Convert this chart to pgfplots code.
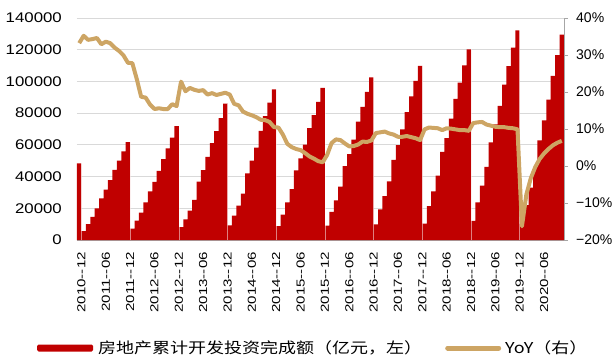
\documentclass[border=0pt]{standalone}
\usepackage{fontspec}
\setmainfont{Liberation Sans}
\newfontfamily\yfont{Liberation Sans}[FakeStretch=1.2]
\newfontfamily\xfont{Liberation Sans}[FakeStretch=1.3]
\newfontfamily\cjk{Noto Sans CJK SC}[FakeStretch=1.2]
\usepackage{pgfplots}
\usepackage{pgfplotstable}
\pgfplotsset{compat=1.18}
\definecolor{barred}{RGB}{192,0,0}
\definecolor{yoy}{RGB}{205,165,100}
\definecolor{gridc}{RGB}{217,217,217}
\definecolor{axc}{RGB}{166,166,166}

% x: category index (0 = 2010-12, then Feb..Dec of each year, 2020 up to Nov)
% the last row only closes the final bar's right edge
\pgfplotstableread{
x inv yoy
0 48259 33.2
1 5569 35.2
2 9956 34.1
3 14554 34.3
4 20020 34.6
5 26250 32.9
6 31727 33.6
7 37781 33.2
8 44208 32.0
9 50097 31.1
10 55893 29.9
11 61740 27.9
12 7147 27.8
13 12216 23.5
14 17278 18.7
15 23765 18.5
16 30610 16.6
17 36621 15.4
18 43600 15.6
19 51046 15.4
20 57840 15.4
21 64530 16.7
22 71804 16.2
23 8059 22.8
24 13078 20.2
25 18549 21.1
26 25314 20.6
27 36828 20.3
28 44100 20.5
29 52500 19.3
30 61120 19.7
31 68693 19.2
32 76883 19.5
33 86013 19.8
34 9241 19.3
35 15339 16.8
36 21747 16.4
37 29288 14.7
38 42019 14.1
39 50107 13.7
40 58325 13.2
41 68751 12.5
42 78186 12.4
43 86648 11.9
44 95036 10.5
45 8786 10.4
46 16043 8.5
47 23669 6.0
48 32075 5.1
49 43955 4.6
50 51514 4.3
51 60122 3.5
52 70535 2.6
53 78801 2.0
54 87172 1.3
55 95979 1.0
56 9031 3.0
57 17677 6.2
58 25044 7.2
59 33702 7.0
60 46631 6.1
61 54188 5.3
62 63332 5.4
63 74598 5.8
64 83929 6.6
65 93387 6.5
66 102581 6.9
67 9854 8.9
68 19292 9.1
69 27732 9.3
70 36985 8.8
71 50610 8.5
72 59761 7.9
73 69694 7.9
74 80644 8.1
75 90544 7.8
76 100387 7.5
77 109799 7.0
78 10357 9.9
79 21291 10.4
80 30592 10.3
81 40652 10.2
82 55531 9.7
83 64316 10.2
84 76519 10.1
85 88948 9.9
86 99325 9.7
87 110083 9.7
88 120264 9.5
89 12090 11.6
90 23803 11.8
91 34217 11.9
92 46075 11.2
93 61609 10.9
94 72843 10.6
95 84589 10.5
96 98008 10.5
97 109603 10.3
98 121265 10.2
99 132194 9.9
100 10115 -16.3
101 21963 -7.7
102 33103 -3.3
103 45920 -0.3
104 62780 1.9
105 75454 3.4
106 88454 4.6
107 103484 5.6
108 116556 6.3
109 129492 6.8
110 129492 nan
}\datatable

\begin{document}
\begin{tikzpicture}
\begin{axis}[
  at={(0,0)}, anchor=south west,
  scale only axis, width=487pt, height=222pt,
  xmin=-0.5, xmax=109.5, ymin=0, ymax=140000,
  scaled y ticks=false,
  axis x line*=bottom, axis y line*=left,
  y axis line style={draw=none},
  x axis line style={draw=axc, line width=0.8pt},
  major tick length=0pt,
  xtick={0.5,6,11.5,17,22.5,28,33.5,39,44.5,50,55.5,61,66.5,72,77.5,83,88.5,94,99.5,105},
  xticklabels={2010--12,2011--06,2011--12,2012--06,2012--12,2013--06,2013--12,2014--06,2014--12,2015--06,2015--12,2016--06,2016--12,2017--06,2017--12,2018--06,2018--12,2019--06,2019--12,2020--06},
  xticklabel style={font=\xfont\fontsize{11.6}{13}\selectfont, rotate=90, anchor=east, inner sep=0pt},
  xticklabel shift=12pt,
  ytick={0,20000,40000,60000,80000,100000,120000,140000},
  yticklabels={0,20000,40000,60000,80000,100000,120000,140000},
  yticklabel style={font=\yfont\fontsize{14}{16}\selectfont, inner sep=0pt},
  yticklabel shift=15pt,
  ymajorgrids, grid style={gridc, line width=0.8pt},
  legend columns=-1,
  legend style={at={(-0.0821,-0.4865)}, anchor=west, draw=none, fill=none, inner sep=0pt,
    font=\cjk\fontsize{15}{18}\selectfont, nodes={inner sep=0pt}},
]
% monthly cumulative investment as full-width bars (step outline, filled to zero)
\addplot[const plot, fill=barred, draw=none, forget plot] table[x expr=\thisrow{x}-0.5, y=inv] {\datatable} \closedcycle;
% faint seam between December and the next year's first bar
\addplot[ycomb, white, opacity=0.5, line width=0.6pt, mark=none, forget plot] coordinates {
 (0.5,48259) (11.5,61740) (22.5,71804) (33.5,86013) (44.5,95036) (55.5,95979) (66.5,102581) (77.5,109799) (88.5,120264) (99.5,132194)};
\addlegendimage{legend image code/.code={\fill[barred, draw=none, rounded corners=1.5pt] (0pt,-3.5pt) rectangle (56pt,3.5pt); \path[draw=none] (0pt,0pt) -- (61pt,0pt);}}
\addlegendentry{房地产累计开发投资完成额（亿元，左）}
\addlegendimage{legend image code/.code={\path[draw=none] (-23pt,0pt) -- (60pt,0pt); \draw[yoy, line width=5pt, line cap=round] (2.5pt,0pt) -- (53.5pt,0pt);}}
\addlegendentry{YoY（右）}
\end{axis}
\begin{axis}[
  at={(0,0)}, anchor=south west,
  scale only axis, width=487pt, height=222pt,
  xmin=-0.5, xmax=109.5, ymin=-20, ymax=40,
  axis x line=none, axis y line*=right,
  y axis line style={draw=axc, line width=0.8pt},
  ytick={-20,-10,0,10,20,30,40},
  yticklabels={−20\%,−10\%,0\%,10\%,20\%,30\%,40\%},
  tick align=outside, major tick length=4pt,
  tick style={draw=axc, line width=0.8pt},
  yticklabel style={font=\fontsize{14}{16}\selectfont, inner sep=0pt},
  yticklabel shift=8pt,
]
\addplot[yoy, line width=4pt, line join=round, mark=none] table[x=x, y=yoy] {\datatable};
\end{axis}
\pgfresetboundingbox
\path[use as bounding box] (-77pt,-120pt) rectangle (537pt,240pt);
\end{tikzpicture}
\end{document}
